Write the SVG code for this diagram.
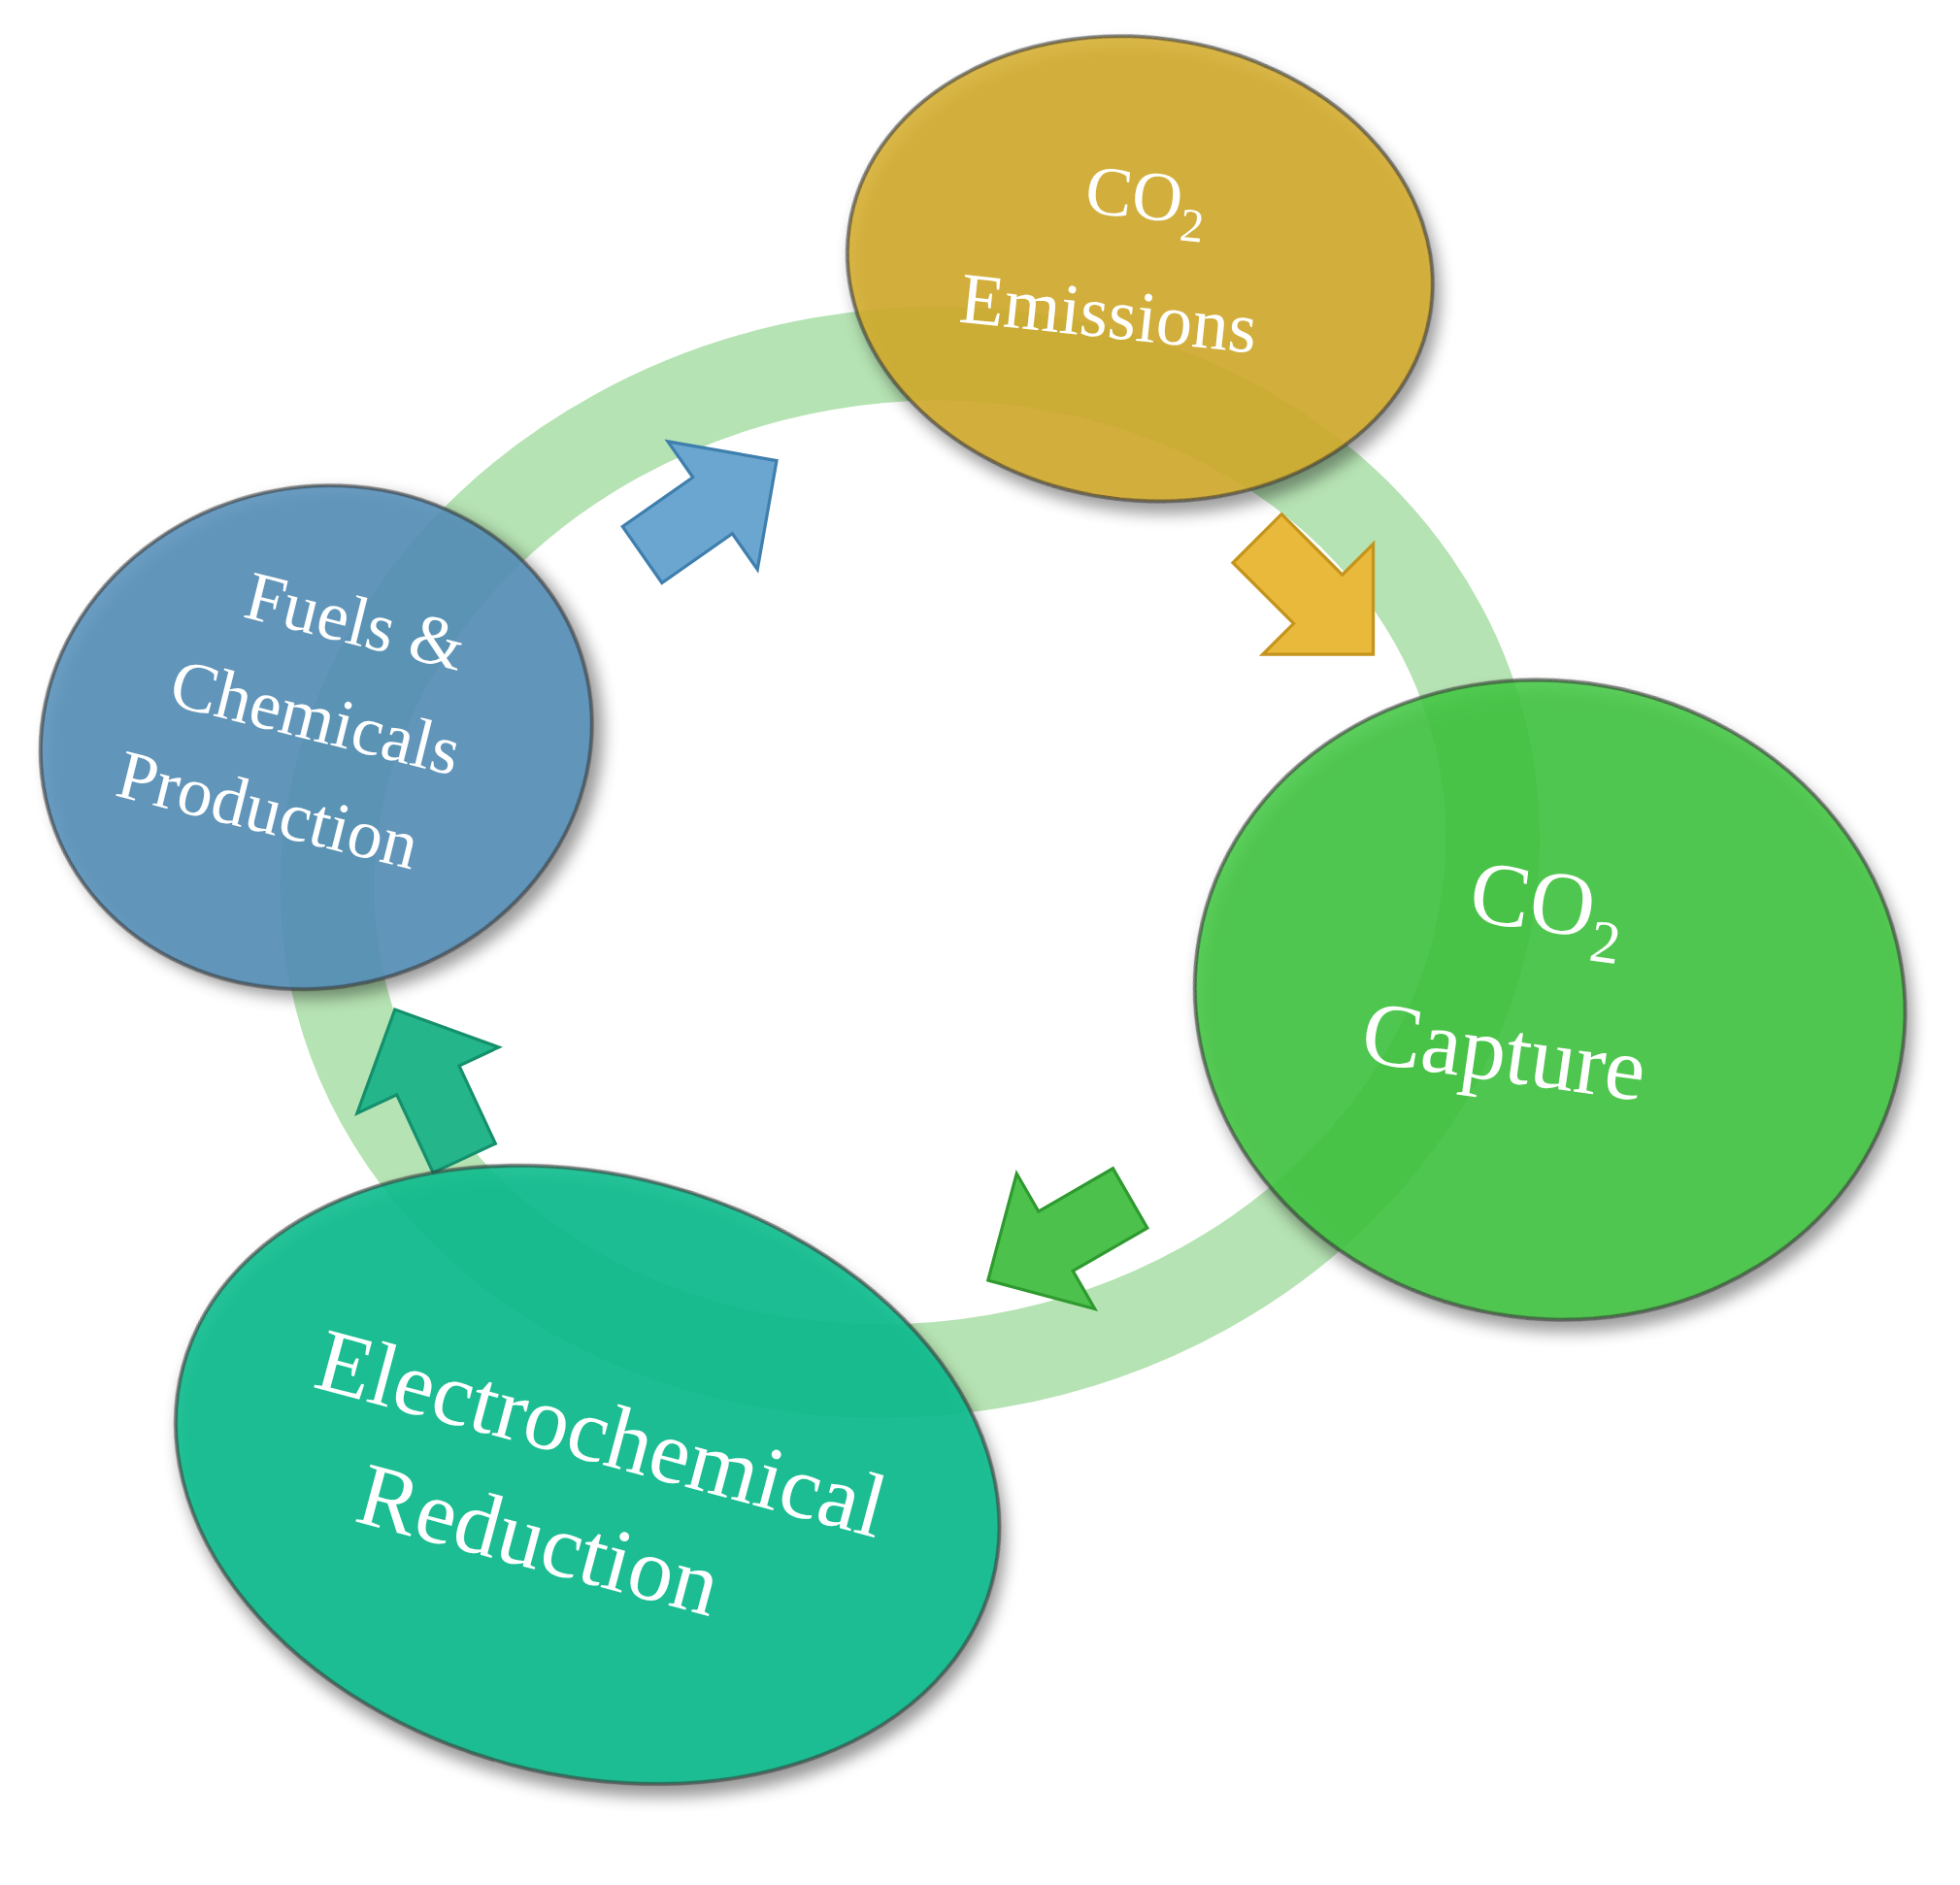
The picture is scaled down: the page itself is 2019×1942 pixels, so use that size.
<svg xmlns="http://www.w3.org/2000/svg" width="2019" height="1942" viewBox="0 0 2019 1942">
<defs>
<style>
.t{font-family:"Liberation Serif","DejaVu Serif",serif;fill:#fff;text-anchor:middle}
.node{stroke:#333;stroke-width:3;stroke-opacity:0.6}
</style>
<filter id="sh" x="-10%" y="-10%" width="130%" height="130%"><feDropShadow dx="6" dy="8" stdDeviation="6" flood-opacity="0.45"/></filter>
<polygon id="arr" points="-50,-22 5,-22 5,-50 55,0 5,50 5,22 -50,22" stroke-width="2"/>
</defs>
<rect width="2019" height="1942" fill="#fff"/>
<g transform="scale(1.2876)">
<g id="connectors">
<ellipse cx="728" cy="690" rx="468" ry="405" transform="rotate(-10 728 690)" fill="none" stroke="#9ed99a" stroke-opacity="0.75" stroke-width="75"/>
<use href="#arr" transform="translate(565,408) rotate(-35) scale(1.25)" fill="#6aa6cf" stroke="#3f7fae"/>
<use href="#arr" transform="translate(1050,475) rotate(45) scale(1.25)" fill="#e8b93a" stroke="#c4941d"/>
<use href="#arr" transform="translate(850,990) rotate(150) scale(1.25)" fill="#4cc24c" stroke="#2f9a2f"/>
<use href="#arr" transform="translate(345,870) rotate(-115) scale(1.25)" fill="#25b58b" stroke="#14906c"/>
</g>
<g id="emissions">
<ellipse class="node" cx="912" cy="215" rx="235" ry="185" transform="rotate(8 912 215)" fill="#d4ac2a" fill-opacity="0.85" filter="url(#sh)"/>
<text class="t" x="915" y="175" font-size="56" transform="rotate(6 915 175)">CO<tspan font-size="38" dy="14">2</tspan></text>
<text class="t" x="885" y="270" font-size="58" transform="rotate(6 885 270)">Emissions</text>
</g>
<g id="capture">
<ellipse class="node" cx="1240" cy="800" rx="285" ry="255" transform="rotate(10 1240 800)" fill="#3fc53f" fill-opacity="0.85" filter="url(#sh)"/>
<text class="t" x="1235" y="745" font-size="72" transform="rotate(8 1235 745)">CO<tspan font-size="48" dy="18">2</tspan></text>
<text class="t" x="1200" y="865" font-size="72" transform="rotate(8 1200 865)">Capture</text>
</g>
<g id="reduction">
<ellipse class="node" cx="470" cy="1180" rx="335" ry="240" transform="rotate(15 470 1180)" fill="#10bd8e" fill-opacity="0.9" filter="url(#sh)"/>
<text class="t" x="475" y="1170" font-size="72" transform="rotate(15 475 1170)">Electrochemical</text>
<text class="t" x="425" y="1255" font-size="72" transform="rotate(15 425 1255)">Reduction</text>
</g>
<g id="fuels">
<ellipse class="node" cx="253" cy="590" rx="222" ry="200" transform="rotate(-15 253 590)" fill="#5590b8" fill-opacity="0.88" filter="url(#sh)"/>
<text class="t" x="280" y="515" font-size="56" transform="rotate(14 280 515)">Fuels &amp;</text>
<text class="t" x="248" y="592" font-size="56" transform="rotate(14 248 592)">Chemicals</text>
<text class="t" x="210" y="666" font-size="56" transform="rotate(14 210 666)">Production</text>
</g>
</g>
</svg>
